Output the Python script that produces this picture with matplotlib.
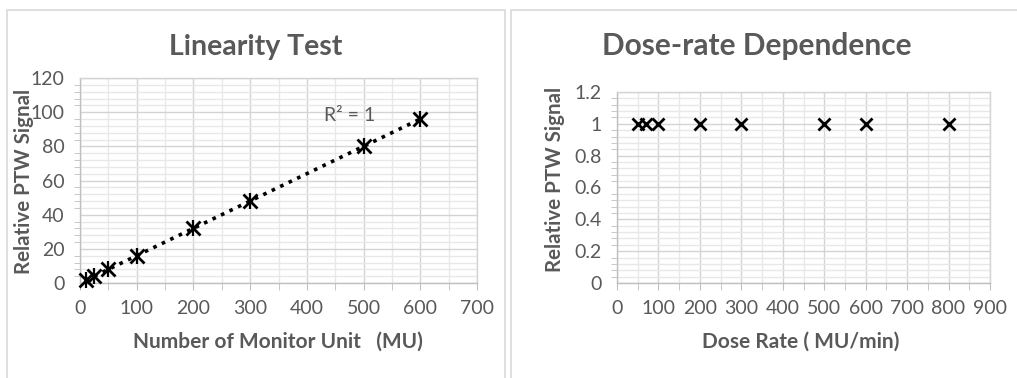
import numpy as np
import matplotlib
matplotlib.use("Agg")
import matplotlib.pyplot as plt
from matplotlib.patches import Rectangle
from matplotlib.ticker import MultipleLocator, FuncFormatter

# ---- data ----
mu_values = [10, 25, 50, 100, 200, 300, 500, 600]
mu_signal = [1.6, 4.0, 8.0, 16.0, 32.0, 48.0, 80.0, 96.0]

dose_rates = [50, 70, 100, 200, 300, 500, 600, 800]
dose_signal = [1, 1, 1, 1, 1, 1, 1, 1]

left_title = "Linearity Test"
right_title = "Dose-rate Dependence"
left_xlabel = "Number of Monitor Unit   (MU)"
right_xlabel = "Dose Rate ( MU/min)"
ylabel = "Relative PTW Signal"

plt.rcParams['font.family'] = ['Lato', 'DejaVu Sans']
GRAY = "#595959"
GRID_MAJ = "#d4d4d4"
GRID_MIN = "#e8e8e8"

W, H = 1017, 378
fig = plt.figure(figsize=(W / 100, H / 100), dpi=100)

def px_rect(x0, y0, x1, y1):
    return [x0 / W, 1 - y1 / H, (x1 - x0) / W, (y1 - y0) / H]

def fx(x):
    return x / W

def fy(y):
    return 1 - y / H

# panel borders
for (x0, y0, x1, y1) in [(7, 10, 505, 400), (511, 10, 1030, 400)]:
    fig.add_artist(Rectangle((x0 / W, 1 - y1 / H), (x1 - x0) / W, (y1 - y0) / H,
                             transform=fig.transFigure, fill=False,
                             edgecolor="#d9d9d9", linewidth=1.2, clip_on=False))

def style_axes(ax, xmaj, xmin, ymaj, ymin):
    ax.xaxis.set_major_locator(MultipleLocator(xmaj))
    ax.xaxis.set_minor_locator(MultipleLocator(xmin))
    ax.yaxis.set_major_locator(MultipleLocator(ymaj))
    ax.yaxis.set_minor_locator(MultipleLocator(ymin))
    ax.grid(True, which='major', color=GRID_MAJ, linewidth=1.0, zorder=0)
    ax.grid(True, which='minor', color=GRID_MIN, linewidth=1.0, zorder=0)
    ax.set_axisbelow(True)
    for s in ax.spines.values():
        s.set_color(GRID_MAJ)
        s.set_linewidth(1.0)
    ax.spines['left'].set_color("#bfbfbf")
    ax.spines['bottom'].set_color("#bfbfbf")
    ax.tick_params(which='both', colors="#bfbfbf", labelcolor=GRAY, labelsize=14,
                   direction='out')
    ax.tick_params(which='minor', length=4)
    ax.tick_params(axis='x', which='major', length=5, pad=7)
    ax.tick_params(axis='x', which='minor', length=5)
    ax.tick_params(axis='y', which='major', length=0, pad=11)

# ---- left ----
ax1 = fig.add_axes(px_rect(80, 78, 477, 283))
ax1.set_xlim(0, 700)
ax1.set_ylim(0, 120)
style_axes(ax1, 100, 50, 20, 4)
coef = np.polyfit(mu_values, mu_signal, 1)
xfit = np.array([min(mu_values), max(mu_values)])
ax1.plot(xfit, np.polyval(coef, xfit), linestyle=(0, (1, 1.6)), color='black',
         linewidth=2.6, zorder=2)
ax1.plot(mu_values, mu_signal, linestyle='none', marker='x', markersize=10,
         markeredgewidth=2, color='black', zorder=3, clip_on=False)
ax1.plot(mu_values, mu_signal, linestyle='none', marker='|', markersize=11,
         markeredgewidth=1.6, color='black', zorder=3, clip_on=False)
ax1.text(475, 98, "R² = 1", fontsize=14, color=GRAY, ha='center', va='center')

# ---- right ----
ax2 = fig.add_axes(px_rect(617, 92, 990, 283))
ax2.set_xlim(0, 900)
ax2.set_ylim(0, 1.2)
style_axes(ax2, 100, 50, 0.2, 0.04)
ax2.yaxis.set_major_formatter(FuncFormatter(lambda v, p: f"{v:g}"))
ax2.plot(dose_rates, dose_signal, linestyle='none', marker='x', markersize=9,
         markeredgewidth=2, color='black', zorder=3)

# titles and labels at fixed figure positions
fig.text(fx(256), fy(55), left_title, fontsize=20.5, fontweight='bold', color=GRAY,
         ha='center', va='baseline')
fig.text(fx(757), fy(55), right_title, fontsize=21.5, fontweight='bold', color=GRAY,
         ha='center', va='baseline')
fig.text(fx(278), fy(342), left_xlabel, fontsize=15, fontweight='bold', color=GRAY,
         ha='center', va='center')
fig.text(fx(801), fy(342), right_xlabel, fontsize=15, fontweight='bold', color=GRAY,
         ha='center', va='center')
fig.text(fx(24), fy(181), ylabel, fontsize=14.8, fontweight='bold', color=GRAY,
         ha='center', va='center', rotation=90)
fig.text(fx(555), fy(179), ylabel, fontsize=14.8, fontweight='bold', color=GRAY,
         ha='center', va='center', rotation=90)

fig.savefig("out.png", dpi=100)
